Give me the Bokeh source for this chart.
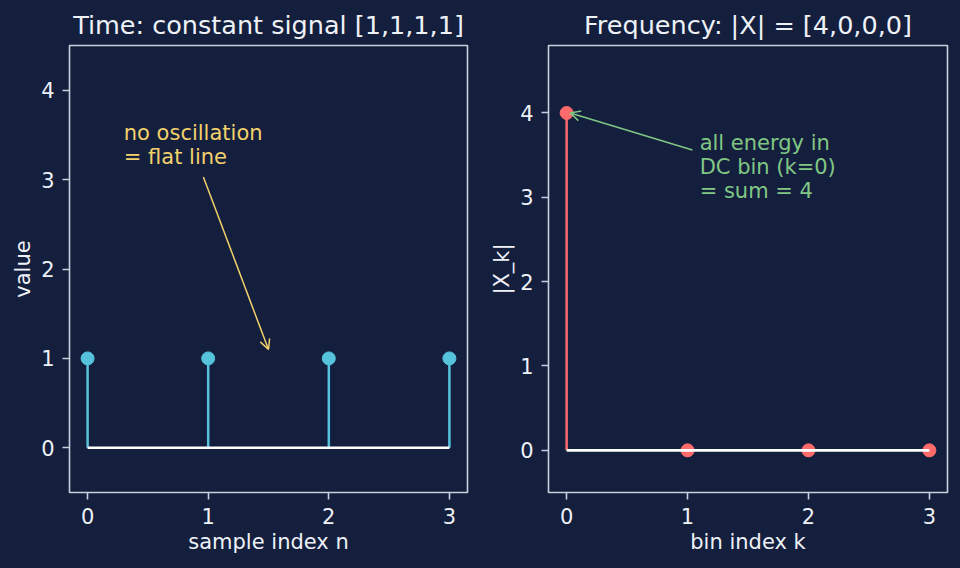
from bokeh.plotting import figure
from bokeh.layouts import row
from bokeh.models import Arrow, OpenHead, Range1d, FixedTicker, ColumnDataSource
from bokeh.core.properties import value
from bokeh.embed import file_html
from bokeh.resources import INLINE

# --- data -------------------------------------------------------------
n_idx = [0, 1, 2, 3]
x_time = [1, 1, 1, 1]
k_idx = [0, 1, 2, 3]
x_mag = [4, 0, 0, 0]

time_ticks_x = [0, 1, 2, 3]
time_ticks_y = [0, 1, 2, 3, 4]
freq_ticks_x = [0, 1, 2, 3]
freq_ticks_y = [0, 1, 2, 3, 4]

time_note = "no oscillation\n= flat line"
time_note_xy = (0.3, 3.39)
time_arrow_from = (0.96, 3.03)
time_arrow_to = (1.5, 1.1)

freq_note = "all energy in\nDC bin (k=0)\n= sum = 4"
freq_note_xy = (1.1, 3.36)
freq_arrow_from = (1.04, 3.56)
freq_arrow_to = (0.03, 4.0)

# --- style ------------------------------------------------------------
BG = "#141f3e"
SPINE = "#c8d0dc"
TEXT = "#eef1f6"
CYAN = "#56c2dc"
SALMON = "#ff6b6b"
YELLOW = "#f2d16b"
GREEN = "#81c784"
FONT = "DejaVu Sans"


def make_fig(title, xlabel, ylabel, y_range, xt, yt, left_border):
    p = figure(width=480, height=568, output_backend="svg", toolbar_location=None,
               x_range=Range1d(-0.15, 3.15), y_range=Range1d(*y_range),
               min_border_left=left_border, min_border_right=13,
               min_border_top=45, min_border_bottom=76)
    p.background_fill_color = BG
    p.border_fill_color = BG
    p.outline_line_color = SPINE
    p.outline_line_width = 1.6
    p.grid.visible = False

    p.title.text = title
    p.title.align = "center"
    p.title.text_font = FONT
    p.title.text_font_size = "25.5px"
    p.title.text_font_style = "normal"
    p.title.text_color = TEXT
    p.title.standoff = 11

    for ax, lab, ticks in ((p.xaxis[0], xlabel, xt), (p.yaxis[0], ylabel, yt)):
        ax.axis_label = lab
        ax.ticker = FixedTicker(ticks=ticks)
        ax.axis_line_color = None
        ax.major_tick_line_color = SPINE
        ax.major_tick_line_width = 1.6
        ax.major_tick_out = 7
        ax.major_tick_in = 0
        ax.minor_tick_line_color = None
        ax.major_label_text_font = FONT
        ax.major_label_text_font_size = "21px"
        ax.major_label_text_color = TEXT
        ax.axis_label_text_font = FONT
        ax.axis_label_text_font_size = "21px"
        ax.axis_label_text_font_style = "normal"
        ax.axis_label_text_color = TEXT
        ax.major_label_standoff = 8
        ax.axis_label_standoff = 3
    return p


# --- time domain ------------------------------------------------------
p1 = make_fig("Time: constant signal [1,1,1,1]", "sample index n", "value",
              (-0.5, 4.5), time_ticks_x, time_ticks_y, 69)
src1 = ColumnDataSource(dict(x=n_idx, y=x_time, y0=[0] * len(n_idx)))
p1.segment(x0="x", y0="y0", x1="x", y1="y", source=src1, line_color=CYAN, line_width=2.5)
p1.scatter(x="x", y="y", source=src1, size=13, fill_color=CYAN, line_color=CYAN)
p1.line(x=[min(n_idx), max(n_idx)], y=[0, 0], line_color="white", line_width=2.6)
p1.text(x=[time_note_xy[0]], y=[time_note_xy[1]], text=[time_note],
        text_font=value(FONT), text_font_size="21px", text_color=YELLOW,
        text_align="left", text_baseline="middle", text_line_height=1.0)
p1.add_layout(Arrow(x_start=time_arrow_from[0], y_start=time_arrow_from[1],
                    x_end=time_arrow_to[0], y_end=time_arrow_to[1],
                    line_color=YELLOW, line_width=1.5,
                    end=OpenHead(size=10, line_color=YELLOW, line_width=1.5)))

# --- frequency domain -------------------------------------------------
p2 = make_fig("Frequency: |X| = [4,0,0,0]", "bin index k", "|X_k|",
              (-0.5, 4.8), freq_ticks_x, freq_ticks_y, 68)
src2 = ColumnDataSource(dict(x=k_idx, y=x_mag, y0=[0] * len(k_idx)))
p2.segment(x0="x", y0="y0", x1="x", y1="y", source=src2, line_color=SALMON, line_width=2.5)
p2.scatter(x="x", y="y", source=src2, size=13, fill_color=SALMON, line_color=SALMON)
p2.line(x=[min(k_idx), max(k_idx)], y=[0, 0], line_color="white", line_width=2.6)
p2.text(x=[freq_note_xy[0]], y=[freq_note_xy[1]], text=[freq_note],
        text_font=value(FONT), text_font_size="21px", text_color=GREEN,
        text_align="left", text_baseline="middle", text_line_height=1.0)
p2.add_layout(Arrow(x_start=freq_arrow_from[0], y_start=freq_arrow_from[1],
                    x_end=freq_arrow_to[0], y_end=freq_arrow_to[1],
                    line_color=GREEN, line_width=1.5,
                    end=OpenHead(size=10, line_color=GREEN, line_width=1.5)))

layout = row(p1, p2)
layout.styles = {"background-color": BG}
open("out.html", "w").write(file_html(layout, INLINE, title="DFT of a constant signal"))
